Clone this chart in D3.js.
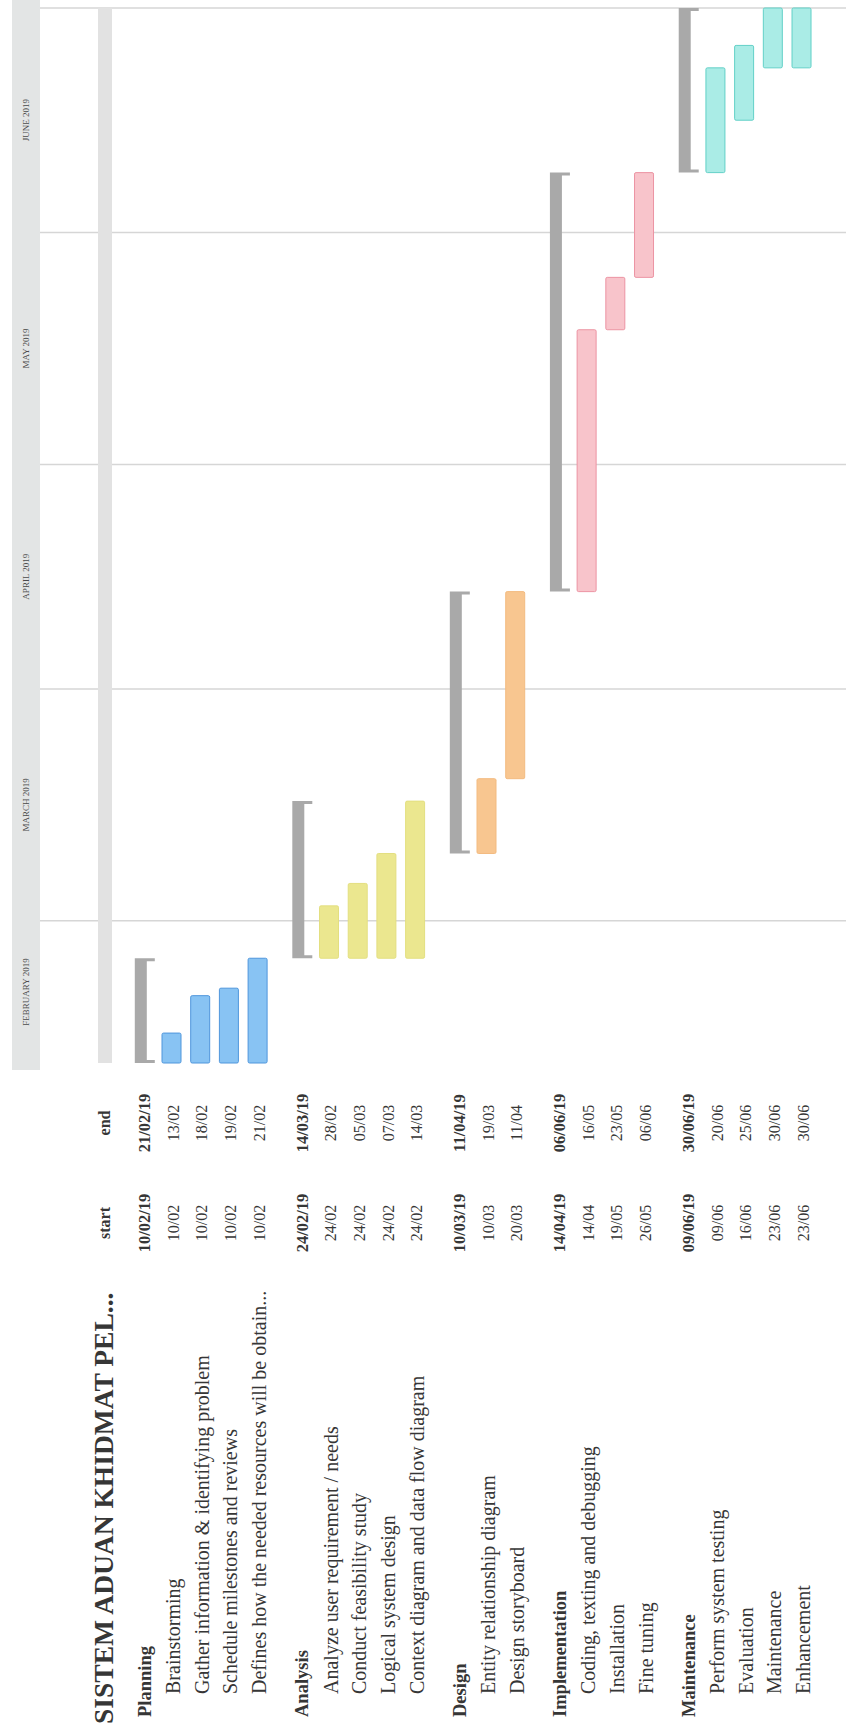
<!DOCTYPE html>
<html>
<head>
<meta charset="utf-8">
<script src="https://cdn.jsdelivr.net/npm/d3@7"></script>
<style>
  body { margin: 0; background: #fff; }
  svg { display: block; }
  text { font-family: "Liberation Serif", "Times New Roman", serif; fill: #363636; }
</style>
</head>
<body>
<svg id="chart" width="846" height="1734"></svg>
<script>
var title = 'SISTEM ADUAN KHIDMAT PEL...';
var groups = ['Planning', 'Analysis', 'Design', 'Implementation', 'Maintenance'];
var groupStart = ['10/02/19', '24/02/19', '10/03/19', '14/04/19', '09/06/19'];
var groupEnd = ['21/02/19', '14/03/19', '11/04/19', '06/06/19', '30/06/19'];
var groupFill = ['#88c3f3', '#ebe78f', '#f8c690', '#f8c4cb', '#aaece6'];
var groupStroke = ['#4f96dc', '#e3df80', '#f3bb80', '#ec94a3', '#62d0c7'];

var taskGroup = [0, 0, 0, 0, 1, 1, 1, 1, 2, 2, 3, 3, 3, 4, 4, 4, 4];
var taskNames = [
  'Brainstorming',
  'Gather information & identifying problem',
  'Schedule milestones and reviews',
  'Defines how the needed resources will be obtain...',
  'Analyze user requirement / needs',
  'Conduct feasibility study',
  'Logical system design',
  'Context diagram and data flow diagram',
  'Entity relationship diagram',
  'Design storyboard',
  'Coding, texting and debugging',
  'Installation',
  'Fine tuning',
  'Perform system testing',
  'Evaluation',
  'Maintenance',
  'Enhancement'
];
var taskStart = ['10/02', '10/02', '10/02', '10/02', '24/02', '24/02', '24/02', '24/02',
  '10/03', '20/03', '14/04', '19/05', '26/05', '09/06', '16/06', '23/06', '23/06'];
var taskEnd = ['13/02', '18/02', '19/02', '21/02', '28/02', '05/03', '07/03', '14/03',
  '19/03', '11/04', '16/05', '23/05', '06/06', '20/06', '25/06', '30/06', '30/06'];

var months = ['FEBRUARY 2019', 'MARCH 2019', 'APRIL 2019', 'MAY 2019', 'JUNE 2019'];
var monthStarts = ['01/02', '01/03', '01/04', '01/05', '01/06', '01/07'];

function parseDay(s) {
  var p = s.split('/');
  return new Date(2019, +p[1] - 1, +p[0]);
}
// bar runs to the next day; a thursday end carries over the fri/sat weekend
function barEnd(s) {
  var d = d3.timeDay.offset(parseDay(s), 1);
  if (d.getDay() === 5) d = d3.timeDay.offset(d, 2);
  return d;
}

var W = 846, H = 1734;
var svg = d3.select('#chart');
// sheet is printed sideways: draw landscape and turn it
var g = svg.append('g').attr('transform', 'translate(0,' + H + ') rotate(-90)');

var x = d3.scaleTime()
  .domain([parseDay('10/02'), parseDay('01/07')])
  .range([671, 1726]);
var row = d3.scaleLinear().domain([0, 1]).range([133.3, 162]);

// rows: group header then its tasks, a little gap between groups
var rows = [];
var r = 0;
groups.forEach(function(name, gi) {
  rows.push({type: 'group', gi: gi, name: name, start: groupStart[gi], end: groupEnd[gi], slot: r + gi * 0.488});
  r++;
  taskNames.forEach(function(t, k) {
    if (taskGroup[k] !== gi) return;
    rows.push({type: 'task', gi: gi, name: t, start: taskStart[k], end: taskEnd[k], slot: r + gi * 0.488});
    r++;
  });
});

// month header band
var x0 = x.range()[0] - 7;
g.append('rect')
  .attr('x', x0).attr('y', 12)
  .attr('width', H - x0).attr('height', 28)
  .attr('fill', '#e3e5e5');

var mDates = monthStarts.map(parseDay);
g.selectAll('.month')
  .data(months)
  .enter().append('text')
  .attr('class', 'month')
  .attr('x', function(d, i) {
    var a = Math.max(x(mDates[i]), x.range()[0]);
    return (a + x(mDates[i + 1])) / 2;
  })
  .attr('y', 29)
  .attr('text-anchor', 'middle')
  .style('font-size', '9px')
  .style('fill', '#4a4a4a')
  .text(function(d) { return d; });

// month grid lines
g.selectAll('.grid')
  .data(mDates.slice(1))
  .enter().append('line')
  .attr('class', 'grid')
  .attr('x1', function(d) { return x(d); })
  .attr('x2', function(d) { return x(d); })
  .attr('y1', 40).attr('y2', W)
  .attr('stroke', '#d6d6d6')
  .attr('stroke-width', 1.5);

// whole project bar
g.append('rect')
  .attr('x', x.range()[0]).attr('y', 98)
  .attr('width', x.range()[1] - x.range()[0]).attr('height', 14)
  .attr('fill', '#e2e2e2');

// group brackets
g.selectAll('.bracket')
  .data(rows.filter(function(d) { return d.type === 'group'; }))
  .enter().append('path')
  .attr('class', 'bracket')
  .attr('fill', '#a9a9a9')
  .attr('d', function(d) {
    var a = x(parseDay(d.start)), b = x(barEnd(d.end)), y = row(d.slot) + 1.5;
    return 'M' + a + ',' + y + 'H' + b + 'V' + (y + 20) + 'H' + (b - 3) + 'V' + (y + 12) +
      'H' + (a + 3) + 'V' + (y + 20) + 'H' + a + 'Z';
  });

// task bars
g.selectAll('.bar')
  .data(rows.filter(function(d) { return d.type === 'task'; }))
  .enter().append('rect')
  .attr('class', 'bar')
  .attr('x', function(d) { return x(parseDay(d.start)); })
  .attr('width', function(d) { return x(barEnd(d.end)) - x(parseDay(d.start)); })
  .attr('y', function(d) { return row(d.slot); })
  .attr('height', 19)
  .attr('rx', 1.5)
  .attr('fill', function(d) { return groupFill[d.gi]; })
  .attr('stroke', function(d) { return groupStroke[d.gi]; })
  .attr('stroke-width', 1);

// table side
g.append('text')
  .attr('x', 10).attr('y', 113)
  .style('font-size', '27.5px').style('font-weight', 'bold')
  .text(title);
g.append('text')
  .attr('x', 511).attr('y', 110).attr('text-anchor', 'middle')
  .style('font-size', '16px').style('font-weight', 'bold')
  .text('start');
g.append('text')
  .attr('x', 611).attr('y', 110).attr('text-anchor', 'middle')
  .style('font-size', '16px').style('font-weight', 'bold')
  .text('end');

var lines = g.selectAll('.row')
  .data(rows)
  .enter().append('g')
  .attr('class', 'row')
  .attr('transform', function(d) { return 'translate(0,' + (row(d.slot) + 11) + ')'; })
  .style('font-weight', function(d) { return d.type === 'group' ? 'bold' : 'normal'; });

lines.append('text')
  .attr('x', function(d) { return d.type === 'group' ? 17 : 40; })
  .attr('dy', '0.35em')
  .style('font-size', function(d) { return d.type === 'group' ? '18.5px' : '20px'; })
  .text(function(d) { return d.name; });
lines.append('text')
  .attr('x', 511).attr('dy', '0.35em').attr('text-anchor', 'middle')
  .style('font-size', function(d) { return d.type === 'group' ? '16.5px' : '16px'; })
  .text(function(d) { return d.start; });
lines.append('text')
  .attr('x', 611).attr('dy', '0.35em').attr('text-anchor', 'middle')
  .style('font-size', function(d) { return d.type === 'group' ? '16.5px' : '16px'; })
  .text(function(d) { return d.end; });
</script>
</body>
</html>
